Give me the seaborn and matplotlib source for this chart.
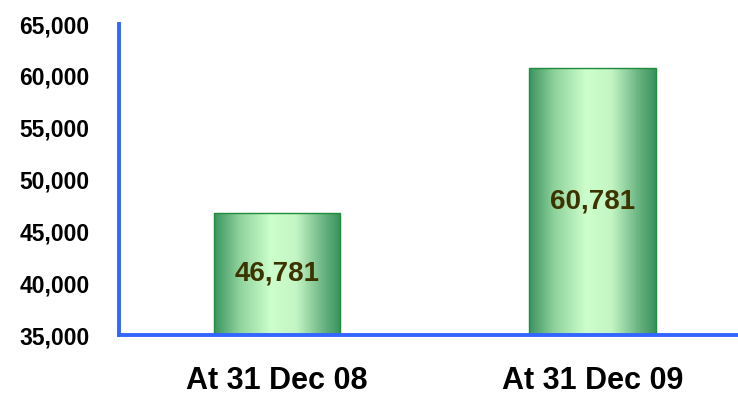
import numpy as np
import matplotlib
matplotlib.use("Agg")
import matplotlib.pyplot as plt
import seaborn as sns
import pandas as pd
from matplotlib.colors import LinearSegmentedColormap

categories = ["At 31 Dec 08", "At 31 Dec 09"]
values = [46781, 60781]
value_labels = ["46,781", "60,781"]
y_ticks = [35000, 40000, 45000, 50000, 55000, 60000, 65000]

sns.set_theme(style="white")
plt.rcParams["font.family"] = ["Liberation Sans", "DejaVu Sans"]

fig = plt.figure(figsize=(7.38, 3.97), dpi=100)
ax = fig.add_axes([0.161, 0.156, 0.839, 0.7835])

df = pd.DataFrame({"period": categories, "count": values})
sns.barplot(data=df, x="period", y="count", ax=ax, width=0.40,
            color="#7fcf8f", edgecolor="#1e8c3a", linewidth=1.0, saturation=1)

y_min, y_max = 35000, 65000

# cylinder-like horizontal gradient inside each bar
cmap = LinearSegmentedColormap.from_list(
    "bar_shade",
    [(0.0, "#3a9460"), (0.2, "#8fd29c"), (0.45, "#ccffcc"),
     (0.65, "#c4f5c4"), (0.85, "#6fb886"), (1.0, "#38905c")])
grad = np.linspace(0, 1, 256).reshape(1, -1)
for patch in ax.patches:
    x0 = patch.get_x()
    w, h = patch.get_width(), patch.get_height()
    top = patch.get_y() + h
    # keep the bar above the visible baseline
    patch.set_y(y_min)
    patch.set_height(top - y_min)
    im = ax.imshow(grad, cmap=cmap, aspect="auto",
                   extent=[x0, x0 + w, y_min, top], zorder=patch.get_zorder() - 0.1)
    im.set_clip_path(patch)
    patch.set_facecolor("none")

ax.set_ylim(y_min, y_max)
ax.set_xlim(-0.5, 1.46)
ax.set_yticks(y_ticks)
ax.set_yticklabels([f"{t:,}" for t in y_ticks], fontsize=16.5, fontweight="bold")
ax.set_xticks(range(len(categories)))
ax.set_xticklabels(categories, fontsize=22, fontweight="bold")
ax.tick_params(axis="y", length=0, pad=21, colors="black")
ax.tick_params(axis="x", length=0, pad=22, colors="black")
ax.set_xlabel("")
ax.set_ylabel("")

for i, (v, lab) in enumerate(zip(values, value_labels)):
    ax.text(i, (y_min + v) / 2, lab, ha="center", va="center",
            fontsize=20, fontweight="bold", color="#3d3300", zorder=5)

for side in ["top", "right"]:
    ax.spines[side].set_visible(False)
for side in ["left", "bottom"]:
    ax.spines[side].set_color("#3366ff")
    ax.spines[side].set_linewidth(2.8)
    ax.spines[side].set_zorder(6)

fig.savefig("out.png", dpi=100)
